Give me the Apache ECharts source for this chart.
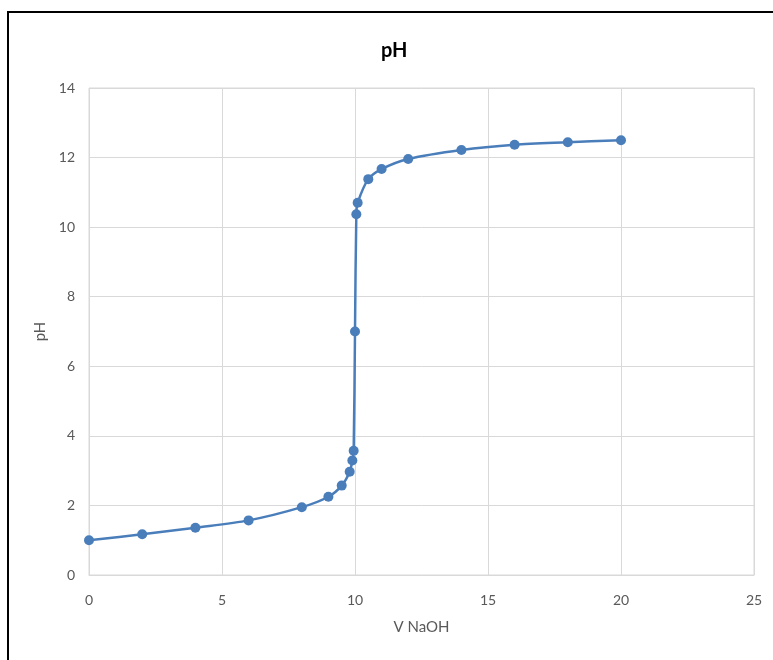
<!DOCTYPE html>
<html>
<head>
<meta charset="utf-8">
<script src="https://cdn.jsdelivr.net/npm/echarts@6/dist/echarts.min.js"></script>
<style>
  html, body { margin: 0; padding: 0; background: #fff; }
  #frame { position: absolute; left: 7px; top: 11px; width: 800px; height: 700px; border: 2px solid #000; box-sizing: border-box; }
  #chart { position: absolute; left: 0; top: 0; width: 773px; height: 660px; }
</style>
</head>
<body>
<div id="frame"></div>
<div id="chart"></div>
<script>
const volumeNaOH = [0, 2, 4, 6, 8, 9, 9.5, 9.8, 9.9, 9.95, 10, 10.05, 10.1, 10.5, 11, 12, 14, 16, 18, 20];
const pHValues   = [1.0, 1.17, 1.36, 1.57, 1.95, 2.25, 2.57, 2.97, 3.29, 3.57, 7.0, 10.37, 10.7, 11.38, 11.67, 11.96, 12.22, 12.37, 12.44, 12.5];
const xTicks = [0, 5, 10, 15, 20, 25];
const yTicks = [0, 2, 4, 6, 8, 10, 12, 14];

const chart = echarts.init(document.getElementById('chart'));
const fontFam = 'Lato, "Open Sans", sans-serif';
chart.setOption({
  backgroundColor: 'transparent',
  animation: false,
  title: {
    text: 'pH', left: 376, top: 36,
    textStyle: { fontFamily: fontFam, fontSize: 20, fontWeight: 'bold', color: '#000' }
  },
  grid: { left: 89, right: 19, top: 88, bottom: 85, show: true, borderColor: '#d9d9d9', borderWidth: 1 },
  xAxis: {
    type: 'value', min: xTicks[0], max: xTicks[xTicks.length - 1], interval: 5,
    name: 'V NaOH', nameLocation: 'middle', nameGap: 45,
    nameTextStyle: { fontFamily: fontFam, fontSize: 15, color: '#595959' },
    axisLine: { show: true, lineStyle: { color: '#d9d9d9' } },
    axisTick: { show: false },
    axisLabel: { fontFamily: fontFam, fontSize: 14, color: '#595959', margin: 18 },
    splitLine: { show: true, lineStyle: { color: '#d9d9d9' } }
  },
  yAxis: {
    type: 'value', min: yTicks[0], max: yTicks[yTicks.length - 1], interval: 2,
    name: 'pH', nameLocation: 'middle', nameGap: 41, nameRotate: 90,
    nameTextStyle: { fontFamily: fontFam, fontSize: 15, color: '#595959' },
    axisLine: { show: false },
    axisTick: { show: false },
    axisLabel: { fontFamily: fontFam, fontSize: 14, color: '#595959', margin: 14 },
    splitLine: { show: true, lineStyle: { color: '#d9d9d9' } }
  },
  series: [{
    type: 'line',
    data: volumeNaOH.map((v, i) => [v, pHValues[i]]),
    smooth: 0.3,
    symbol: 'circle',
    symbolSize: 10,
    lineStyle: { color: '#4a7ebb', width: 2.5 },
    itemStyle: { color: '#4a7ebb' }
  }]
});
</script>
</body>
</html>
